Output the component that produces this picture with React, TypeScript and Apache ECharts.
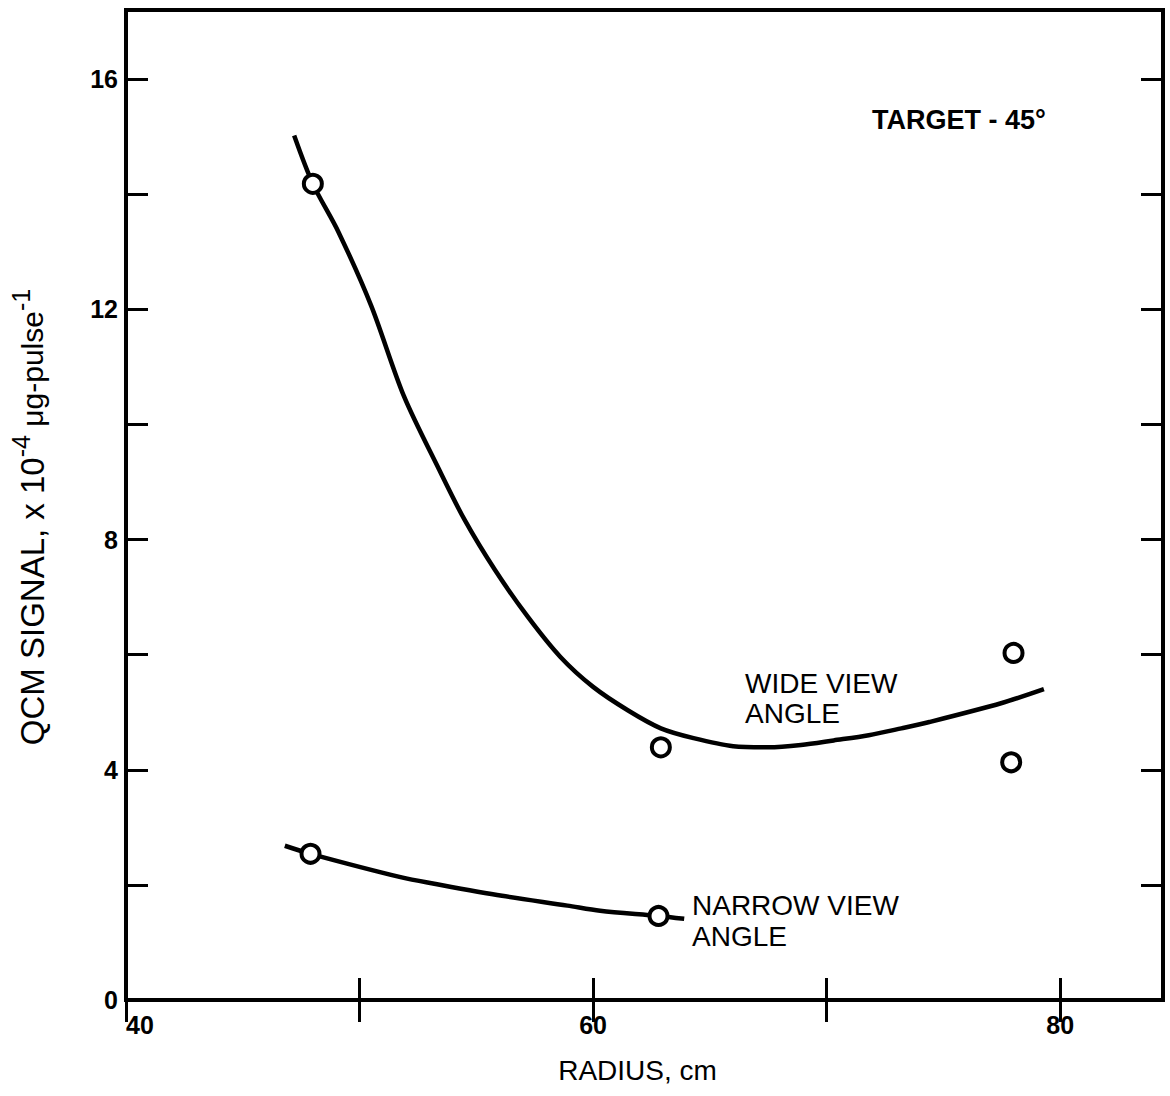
import React, { useEffect, useRef } from "react";
import * as echarts from "echarts";

// ---- data ----
const xTickValues = [40, 50, 60, 70, 80];
const xTickLabels = [40, 60, 80];
const yTickValues = [0, 2, 4, 6, 8, 10, 12, 14, 16];
const yTickLabels = [0, 4, 8, 12, 16];

// measured points
const wideX = [48.0, 62.9, 78.0, 77.9];
const wideY = [14.18, 4.39, 6.03, 4.13];
const narrowX = [47.9, 62.8];
const narrowY = [2.54, 1.46];

const wideCurveX = [47.2, 48.0, 49.1, 50.5, 51.9, 53.4, 54.5, 55.8, 57.2, 58.6, 60.0, 61.5, 62.9, 64.3, 66.0, 67.5, 68.9, 70.3, 71.8, 73.2, 74.4, 77.5, 79.3];
const wideCurveY = [15.02, 14.18, 13.34, 12.06, 10.49, 9.22, 8.34, 7.47, 6.66, 5.96, 5.44, 5.03, 4.72, 4.55, 4.41, 4.39, 4.43, 4.51, 4.6, 4.72, 4.83, 5.16, 5.4];
const narrowCurveX = [46.8, 47.9, 51.8, 53.2, 56.1, 58.9, 60.3, 62.8, 63.9];
const narrowCurveY = [2.68, 2.54, 2.13, 2.02, 1.81, 1.64, 1.55, 1.46, 1.41];

const annotations = {
  target: "TARGET - 45°",
  wide: "WIDE VIEW\nANGLE",
  narrow: "NARROW VIEW\nANGLE",
};

const FONT = '"Liberation Sans", Arial, sans-serif';

const zip = (xs: number[], ys: number[]) => xs.map((x, i) => [x, ys[i]]);

export default function App() {
  const ref = useRef<HTMLDivElement>(null);

  useEffect(() => {
    if (!ref.current) return;
    const chart = echarts.init(ref.current, null, { renderer: "svg" });

    const tick = (values: number[]) => ({
      inside: true,
      length: 22,
      customValues: values,
      lineStyle: { color: "#000", width: 3 },
    });

    const option: any = {
      animation: false,
      backgroundColor: "#fff",
      grid: {
        left: 125,
        right: 7,
        top: 10,
        bottom: 96,
        show: true,
        borderColor: "#000",
        borderWidth: 4,
        backgroundColor: "transparent",
      },
      xAxis: [
        {
          type: "value",
          min: 40,
          max: 84.4,
          interval: 10,
          position: "bottom",
          axisLine: { show: false },
          axisTick: tick(xTickValues),
          splitLine: { show: false },
          axisLabel: {
            customValues: xTickLabels,
            formatter: (v: number) => String(v),
            margin: 12,
            fontSize: 25,
            fontWeight: "bold",
            fontFamily: FONT,
            color: "#000",
            alignMinLabel: "left",
          },
          name: "RADIUS, cm",
          nameLocation: "middle",
          nameGap: 56,
          nameTextStyle: { fontSize: 28, fontFamily: FONT, color: "#000", padding: [0, 14, 0, 0] },
        },
        {
          type: "value",
          min: 40,
          max: 84.4,
          interval: 10,
          position: "top",
          axisLine: { show: false },
          axisTick: tick(xTickValues),
          splitLine: { show: false },
          axisLabel: { show: false },
        },
      ],
      yAxis: [
        {
          type: "value",
          min: 0,
          max: 17.2,
          interval: 2,
          position: "left",
          axisLine: { show: false },
          axisTick: tick(yTickValues),
          splitLine: { show: false },
          axisLabel: {
            customValues: yTickLabels,
            formatter: (v: number) => String(v),
            margin: 8,
            fontSize: 25,
            fontWeight: "bold",
            fontFamily: FONT,
            color: "#000",
          },
          name: "{a|QCM SIGNAL, x 10}{s|-4}{b| μg-pulse}{s|-1}",
          nameLocation: "middle",
          nameRotate: 90,
          nameGap: 70,
          nameTextStyle: {
            color: "#000",
            fontFamily: FONT,
            padding: [0, 24, 0, 0],
            rich: {
              a: { fontSize: 33, fontFamily: FONT, color: "#000", lineHeight: 48 },
              b: { fontSize: 30, fontFamily: FONT, color: "#000", lineHeight: 48 },
              s: { fontSize: 25, fontFamily: FONT, color: "#000", verticalAlign: "top" },
            },
          },
        },
        {
          type: "value",
          min: 0,
          max: 17.2,
          interval: 2,
          position: "right",
          axisLine: { show: false },
          axisTick: tick(yTickValues),
          splitLine: { show: false },
          axisLabel: { show: false },
        },
      ],
      series: [
        {
          name: "wide curve",
          type: "line",
          xAxisIndex: 0,
          yAxisIndex: 0,
          data: zip(wideCurveX, wideCurveY),
          smooth: 0.3,
          showSymbol: false,
          symbol: "none",
          lineStyle: { color: "#000", width: 4.5 },
          z: 2,
        },
        {
          name: "narrow curve",
          type: "line",
          xAxisIndex: 0,
          yAxisIndex: 0,
          data: zip(narrowCurveX, narrowCurveY),
          smooth: 0.3,
          showSymbol: false,
          symbol: "none",
          lineStyle: { color: "#000", width: 4.5 },
          z: 2,
        },
        {
          name: "wide view angle",
          type: "scatter",
          xAxisIndex: 0,
          yAxisIndex: 0,
          data: zip(wideX, wideY),
          symbol: "circle",
          symbolSize: 18,
          itemStyle: { color: "#fff", borderColor: "#000", borderWidth: 4, opacity: 1 },
          z: 5,
        },
        {
          name: "narrow view angle",
          type: "scatter",
          xAxisIndex: 0,
          yAxisIndex: 0,
          data: zip(narrowX, narrowY),
          symbol: "circle",
          symbolSize: 18,
          itemStyle: { color: "#fff", borderColor: "#000", borderWidth: 4, opacity: 1 },
          z: 5,
        },
      ],
      graphic: [
        {
          type: "text",
          left: 872,
          top: 106,
          style: { text: annotations.target, font: `bold 27px ${FONT}`, fill: "#000" },
        },
        {
          type: "text",
          left: 745,
          top: 668,
          style: { text: annotations.wide, font: `28px ${FONT}`, fill: "#000", lineHeight: 30 },
        },
        {
          type: "text",
          left: 692,
          top: 890,
          style: { text: annotations.narrow, font: `28px ${FONT}`, fill: "#000", lineHeight: 31 },
        },
      ],
    };

    chart.setOption(option);
    return () => chart.dispose();
  }, []);

  return (
    <div
      ref={ref}
      style={{ position: "fixed", left: 0, top: 0, width: 1170, height: 1096, background: "#fff" }}
    />
  );
}
